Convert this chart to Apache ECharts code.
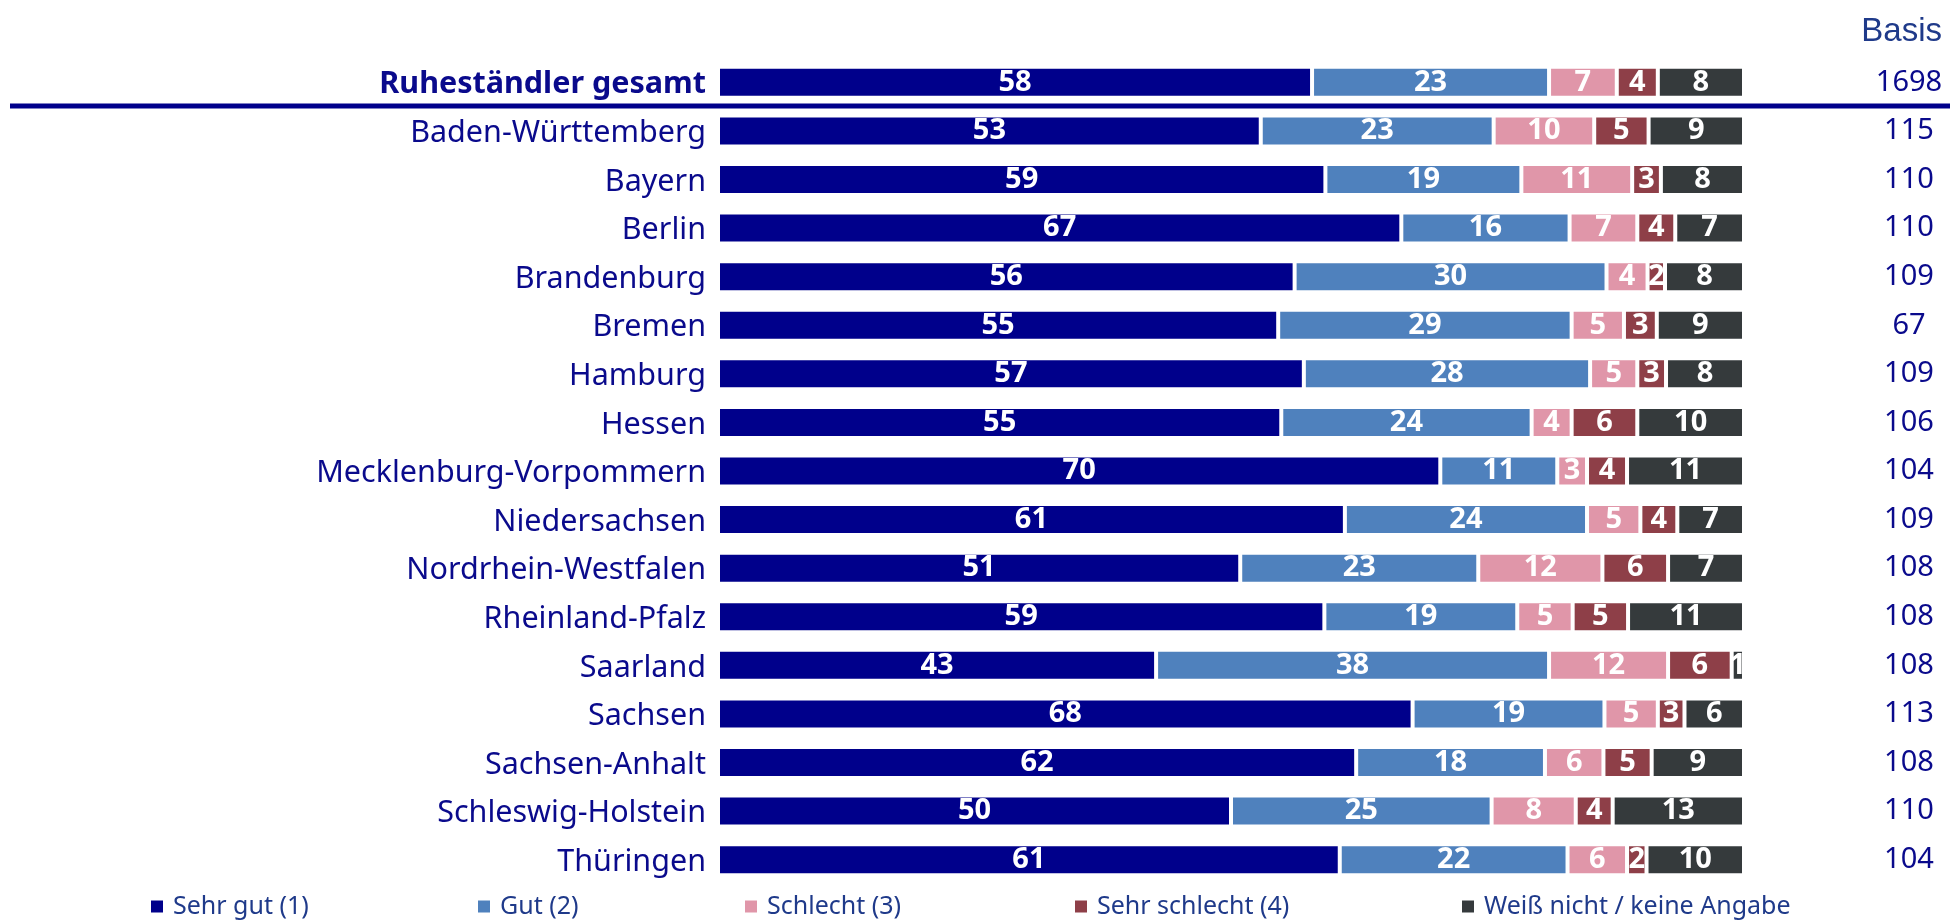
<!DOCTYPE html>
<html>
<head>
<meta charset="utf-8">
<script src="https://cdn.jsdelivr.net/npm/echarts@6/dist/echarts.min.js"></script>
<style>
html,body{margin:0;padding:0;background:#fff;}
#chart{width:1950px;height:924px;}
</style>
</head>
<body>
<div id="chart"></div>
<script>
const categories = ['Ruheständler gesamt','Baden-Württemberg','Bayern','Berlin','Brandenburg','Bremen','Hamburg','Hessen','Mecklenburg-Vorpommern','Niedersachsen','Nordrhein-Westfalen','Rheinland-Pfalz','Saarland','Sachsen','Sachsen-Anhalt','Schleswig-Holstein','Thüringen'];
const basis = ['1698','115','110','110','109','67','109','106','104','109','108','108','108','113','108','110','104'];
const seriesNames = ['Sehr gut (1)','Gut (2)','Schlecht (3)','Sehr schlecht (4)','Weiß nicht / keine Angabe'];
const sehrGut = [57.9,52.9,59.2,66.6,56.2,54.6,57.1,54.9,70.4,61.1,50.9,59.1,42.7,67.7,62.2,50.0,60.6];
const gut = [23.1,22.7,19.1,16.4,30.4,28.6,27.9,24.4,11.4,23.6,23.2,18.8,38.3,18.7,18.4,25.4,22.2];
const schlecht = [6.6,9.8,10.8,6.6,4.0,5.1,4.6,3.9,2.9,5.2,12.1,5.4,11.6,5.2,5.7,8.2,5.8];
const sehrSchlecht = [4.0,5.3,2.8,3.7,1.7,3.2,2.8,6.4,3.9,3.6,6.4,5.4,6.2,2.6,4.7,3.6,1.9];
const weissNicht = [8.4,9.3,8.1,6.7,7.7,8.5,7.6,10.4,11.4,6.5,7.4,11.3,1.2,5.8,9.0,12.8,9.5];
const colors = ['#00008B','#4F81BD','#E096A9','#8E3F48','#353A3C'];
const legendLeft = [144,471,738,1068,1455];

const values = [sehrGut, gut, schlecht, sehrSchlecht, weissNicht];
const chart = echarts.init(document.getElementById('chart'));
const catColor = '#0A0A8C';
const option = {
  animation: false,
  backgroundColor: '#fff',
  title: {
    text: 'Basis', right: 3, top: 10,
    textStyle: {fontFamily: 'Liberation Sans', fontSize: 33, fontWeight: 'normal', color: '#1F3A8A'}
  },
  legend: seriesNames.map((n, i) => ({
    data: [n], left: legendLeft[i], top: 889,
    icon: 'rect', itemWidth: 14, itemHeight: 14,
    textStyle: {fontFamily: 'Noto Sans', fontSize: 25, color: '#1F3A8A', padding: [0,0,0,4]}
  })),
  grid: {left: 718, right: 206, top: 58, bottom: 40},
  xAxis: {type: 'value', min: 0, max: 100, show: false},
  yAxis: [
    {
      type: 'category', inverse: true, data: categories,
      axisLine: {show: false}, axisTick: {show: false},
      axisLabel: {
        margin: 12, fontFamily: 'Noto Sans', fontSize: 30.5, color: catColor,
        padding: [5, 0, 0, 0],
        formatter: (v, i) => i === 0 ? '{b|' + v + '}' : v,
        rich: {b: {fontFamily: 'Noto Sans', fontSize: 30.5, fontWeight: 'bold', color: catColor}}
      }
    },
    {
      type: 'category', inverse: true, position: 'right', data: basis,
      axisLine: {show: false}, axisTick: {show: false},
      axisLabel: {margin: 165, align: 'center', fontFamily: 'Noto Sans', fontSize: 29, color: catColor, padding: [4, 0, 0, 0]}
    }
  ],
  graphic: [{
    type: 'line', shape: {x1: 10, y1: 106, x2: 1950, y2: 106},
    style: {stroke: '#00008B', lineWidth: 5}, silent: true
  }],
  series: values.map((arr, i) => ({
    name: seriesNames[i], type: 'bar', stack: 'total', yAxisIndex: 0,
    data: arr, barWidth: 31,
    itemStyle: {color: colors[i], borderColor: '#fff', borderWidth: 2},
    label: {
      show: true, position: 'inside', color: '#fff', fontFamily: 'Noto Sans',
      fontWeight: 'bold', fontSize: 29, padding: [3, 0, 0, 0],
      formatter: p => Math.round(p.value)
    }
  }))
};
chart.setOption(option);
</script>
</body>
</html>
